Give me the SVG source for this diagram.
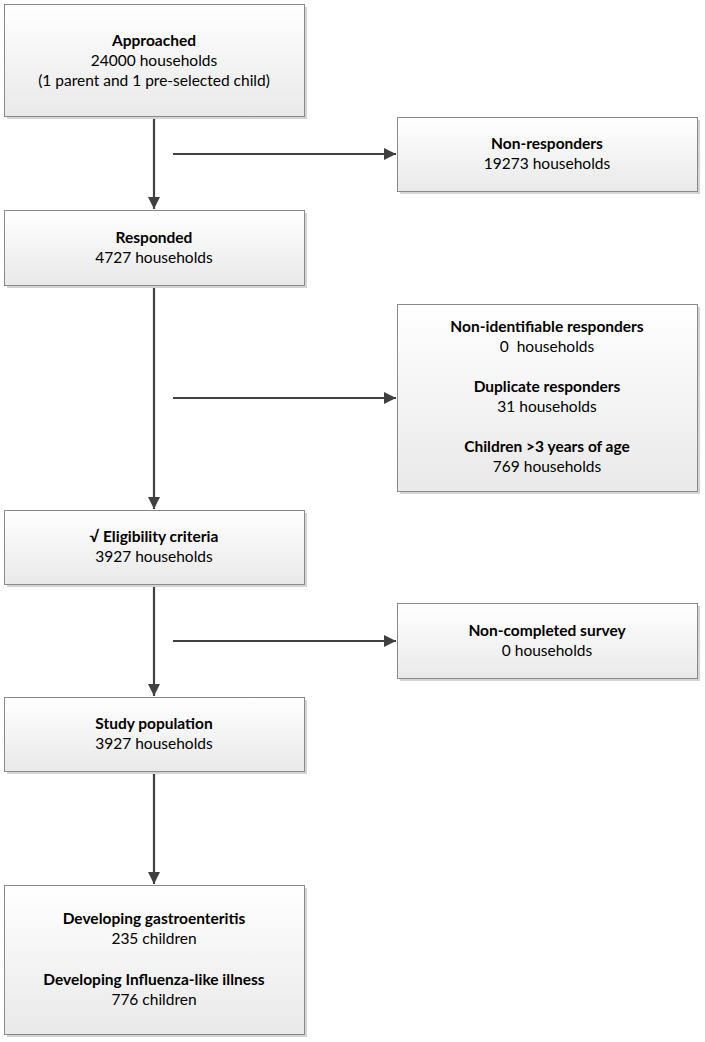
<svg xmlns="http://www.w3.org/2000/svg" width="705" height="1042" viewBox="0 0 705 1042">
<style>
.box{fill:url(#g);stroke:#8a8a8a;stroke-width:1}
.sh{fill:#d4d4d4}
text{font-family:Lato,"Open Sans","Liberation Sans",sans-serif;font-size:15.5px;fill:#000;text-anchor:middle}
.b{font-weight:bold}
.c{stroke:#404040;stroke-width:2.2;fill:none;marker-end:url(#a)}
</style>
<defs>
<linearGradient id="g" x1="0" y1="0" x2="0" y2="1">
<stop offset="0" stop-color="#ffffff"/>
<stop offset="1" stop-color="#e9e9e9"/>
</linearGradient>
<marker id="a" viewBox="0 0 10 10" refX="10" refY="5" markerWidth="5.5" markerHeight="5.5" orient="auto" markerUnits="strokeWidth">
<path d="M0,0 L10,5 L0,10 z" fill="#404040"/>
</marker>
</defs>
<g id="connectors">
<line class="c" x1="154" y1="116" x2="154" y2="209"/>
<line class="c" x1="173" y1="154" x2="396" y2="154"/>
<line class="c" x1="154" y1="285" x2="154" y2="509"/>
<line class="c" x1="173" y1="398" x2="396" y2="398"/>
<line class="c" x1="154" y1="584" x2="154" y2="696"/>
<line class="c" x1="173" y1="641" x2="396" y2="641"/>
<line class="c" x1="154" y1="771" x2="154" y2="884"/>
</g>
<g id="approached">
<rect class="sh" x="7" y="7" width="300" height="112"/>
<rect class="box" x="4.5" y="4.5" width="300" height="112"/>
<text class="b" x="154" y="46">Approached</text>
<text x="154" y="66">24000 households</text>
<text x="154" y="86">(1 parent and 1 pre-selected child)</text>
</g>
<g id="nonresponders">
<rect class="sh" x="400" y="120" width="300" height="74"/>
<rect class="box" x="397.5" y="117.5" width="300" height="74"/>
<text class="b" x="547" y="149">Non-responders</text>
<text x="547" y="169">19273 households</text>
</g>
<g id="responded">
<rect class="sh" x="7" y="213" width="300" height="75"/>
<rect class="box" x="4.5" y="210.5" width="300" height="75"/>
<text class="b" x="154" y="243">Responded</text>
<text x="154" y="263">4727 households</text>
</g>
<g id="excluded">
<rect class="sh" x="400" y="307" width="300" height="187"/>
<rect class="box" x="397.5" y="304.5" width="300" height="187"/>
<text class="b" x="547" y="332">Non-identifiable responders</text>
<text x="547" y="352" xml:space="preserve">0  households</text>
<text class="b" x="547" y="392">Duplicate responders</text>
<text x="547" y="412">31 households</text>
<text class="b" x="547" y="452">Children &gt;3 years of age</text>
<text x="547" y="472">769 households</text>
</g>
<g id="eligibility">
<rect class="sh" x="7" y="513" width="300" height="74"/>
<rect class="box" x="4.5" y="510.5" width="300" height="74"/>
<text class="b" x="154" y="542">√ Eligibility criteria</text>
<text x="154" y="562">3927 households</text>
</g>
<g id="noncompleted">
<rect class="sh" x="400" y="606" width="300" height="75"/>
<rect class="box" x="397.5" y="603.5" width="300" height="75"/>
<text class="b" x="547" y="636">Non-completed survey</text>
<text x="547" y="656">0 households</text>
</g>
<g id="study">
<rect class="sh" x="7" y="700" width="300" height="74"/>
<rect class="box" x="4.5" y="697.5" width="300" height="74"/>
<text class="b" x="154" y="729">Study population</text>
<text x="154" y="749">3927 households</text>
</g>
<g id="outcomes">
<rect class="sh" x="7" y="888" width="300" height="149"/>
<rect class="box" x="4.5" y="885.5" width="300" height="149"/>
<text class="b" x="154" y="924">Developing gastroenteritis</text>
<text x="154" y="944">235 children</text>
<text class="b" x="154" y="985">Developing Influenza-like illness</text>
<text x="154" y="1005">776 children</text>
</g>
</svg>
